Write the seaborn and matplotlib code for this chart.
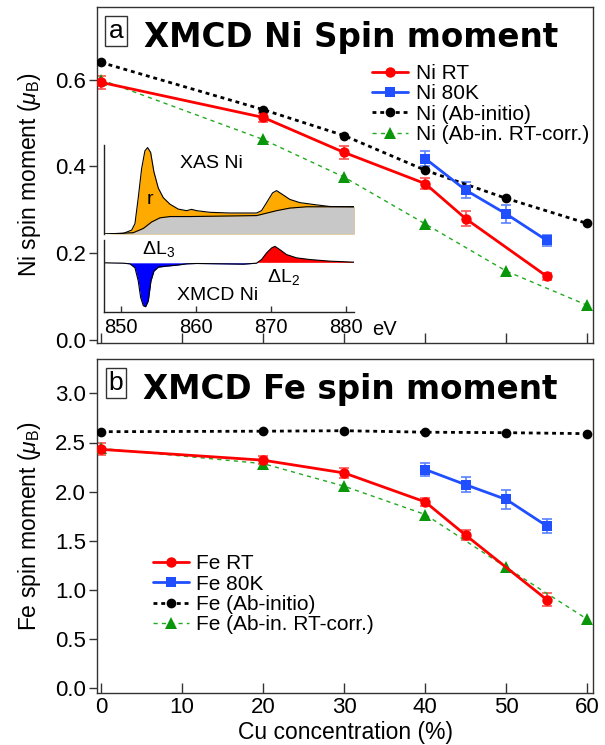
import matplotlib
matplotlib.use("Agg")
import matplotlib.pyplot as plt
import pandas as pd
import seaborn as sns

# ---- data: spin moments vs Cu concentration ----
cu_exp = [0, 20, 30, 40, 45, 55]
cu_80k = [40, 45, 50, 55]
cu_calc = [0, 20, 30, 40, 50, 60]

ni_rt = [0.594, 0.513, 0.432, 0.360, 0.279, 0.146]
ni_rt_err = [0.015, 0.011, 0.014, 0.012, 0.017, 0.008]
ni_80k = [0.418, 0.345, 0.290, 0.229]
ni_80k_err = [0.017, 0.018, 0.020, 0.013]
ni_abinitio = [0.640, 0.531, 0.471, 0.391, 0.326, 0.268]
ni_corr = [0.600, 0.462, 0.375, 0.267, 0.158, 0.079]

fe_rt = [2.43, 2.32, 2.19, 1.895, 1.556, 0.90]
fe_rt_err = [0.06, 0.04, 0.055, 0.04, 0.05, 0.065]
fe_80k = [2.225, 2.07, 1.92, 1.65]
fe_80k_err = [0.07, 0.075, 0.10, 0.07]
fe_abinitio = [2.61, 2.615, 2.62, 2.605, 2.60, 2.59]
fe_corr = [2.44, 2.285, 2.055, 1.767, 1.228, 0.70]

# ---- inset spectra (arbitrary units) ----
xas_energy = [847.83, 850.27, 851.39, 851.83, 852.27, 852.72, 853.16, 853.52,
              853.92, 854.36, 854.94, 855.61, 856.5, 857.61, 858.72, 859.39,
              860.05, 861.83, 864.5, 868.05, 868.72, 869.39, 870.19, 870.72,
              871.39, 872.5, 873.83, 876.05, 877.83, 881.07]
xas_ni = [0.0, 0.007, 0.045, 0.12, 0.42, 0.757, 0.963, 1.0,
          0.944, 0.719, 0.532, 0.42, 0.345, 0.288, 0.27, 0.285,
          0.27, 0.251, 0.243, 0.243, 0.27, 0.363, 0.476, 0.502,
          0.464, 0.40, 0.363, 0.337, 0.318, 0.315]
step_energy = [847.83, 851.6, 852.94, 854.05, 855.16, 856.5, 859.16,
               868.05, 868.94, 870.72, 872.5, 874.72, 881.07]
step_bg = [0.0, 0.015, 0.064, 0.139, 0.187, 0.202, 0.202,
           0.213, 0.232, 0.27, 0.30, 0.315, 0.315]
xmcd_energy = [847.83, 850.27, 851.16, 851.83, 852.27, 852.59, 852.94, 853.25,
               853.61, 853.96, 854.36, 854.94, 856.05, 857.39, 858.72, 860.05,
               863.61, 866.27, 868.05, 868.72, 869.39, 870.05, 870.5, 871.16,
               872.05, 873.39, 875.16, 877.83, 881.07]
xmcd_ni = [0.0, -0.008, -0.023, -0.113, -0.414, -0.789, -0.977, -1.0,
           -0.865, -0.414, -0.188, -0.098, -0.075, -0.053, -0.023, -0.015,
           -0.023, -0.03, -0.008, 0.075, 0.226, 0.338, 0.376, 0.30,
           0.188, 0.113, 0.075, 0.038, 0.015]
inset_ticks = [850, 860, 870, 880]

RED = "#ff0000"
BLUE = "#1f4fff"
GREEN = "#0a960a"
W, H = 605, 745


def fx(px):
    return px / W


def fy(py):
    return 1 - py / H


def draw_panel(ax, rt, rt_err, k80, k80_err, abin, corr, el):
    df_rt = pd.DataFrame({"cu": cu_exp, "m": rt})
    df_80 = pd.DataFrame({"cu": cu_80k, "m": k80})
    df_ab = pd.DataFrame({"cu": cu_calc, "m": abin})
    df_co = pd.DataFrame({"cu": cu_calc, "m": corr})

    ax.errorbar(cu_exp, rt, yerr=rt_err, fmt="none", ecolor="#ff5050",
                elinewidth=1.2, capsize=3.5, capthick=1.2, zorder=2)
    ax.errorbar(cu_80k, k80, yerr=k80_err, fmt="none", ecolor="#5a80ff",
                elinewidth=1.2, capsize=3.5, capthick=1.2, zorder=2)

    sns.lineplot(data=df_rt, x="cu", y="m", ax=ax, color=RED, lw=2,
                 marker="o", markersize=7.5, markeredgewidth=0,
                 label=f"{el} RT", zorder=4)
    sns.lineplot(data=df_80, x="cu", y="m", ax=ax, color=BLUE, lw=2,
                 marker="s", markersize=7.5, markeredgewidth=0,
                 label=f"{el} 80K", zorder=4)
    sns.lineplot(data=df_ab, x="cu", y="m", ax=ax, color="black", lw=2,
                 marker="o", markersize=7, markeredgewidth=0,
                 dashes=False, label=f"{el} (Ab-initio)", zorder=3)
    ax.lines[-1].set_dashes((1.4, 1.4))
    sns.lineplot(data=df_co, x="cu", y="m", ax=ax, color="#22aa22", lw=1,
                 marker="^", markersize=8, markeredgewidth=0,
                 markerfacecolor=GREEN, label=f"{el} (Ab-in. RT-corr.)",
                 zorder=3)
    ax.lines[-1].set_dashes((3, 3))

    ax.set_xlim(-0.5, 60.7)
    ax.set_xticks([0, 10, 20, 30, 40, 50, 60])
    ax.tick_params(axis="x", direction="in", length=7, width=1, color="#333333")
    ax.tick_params(axis="y", direction="out", length=6, width=1, color="#333333",
                   labelsize=16, pad=2)
    for sp in ax.spines.values():
        sp.set_visible(True)
        sp.set_color("#333333")
        sp.set_linewidth(1)


sns.set_theme(style="ticks")
plt.rcParams["font.family"] = ["Liberation Sans", "DejaVu Sans"]
plt.rcParams["mathtext.fontset"] = "custom"
plt.rcParams["mathtext.rm"] = "Liberation Sans"
plt.rcParams["mathtext.it"] = "Liberation Sans:italic"
for key in ["text.color", "axes.labelcolor", "xtick.labelcolor", "ytick.labelcolor"]:
    plt.rcParams[key] = "black"

fig = plt.figure(figsize=(6.05, 7.45), dpi=100)

ax_a = fig.add_axes([fx(97), fy(343), fx(593 - 97), (343 - 7) / H])
ax_b = fig.add_axes([fx(97), fy(693), fx(593 - 97), (693 - 359) / H])

draw_panel(ax_a, ni_rt, ni_rt_err, ni_80k, ni_80k_err, ni_abinitio, ni_corr, "Ni")
draw_panel(ax_b, fe_rt, fe_rt_err, fe_80k, fe_80k_err, fe_abinitio, fe_corr, "Fe")

legend_kw = dict(frameon=False, fontsize=15, handlelength=1.75, handletextpad=0.35,
                 labelspacing=0.06, borderpad=0, borderaxespad=0)

# panel a
ax_a.set_ylim(-0.008, 0.768)
ax_a.set_yticks([0.0, 0.2, 0.4, 0.6])
ax_a.set_yticklabels(["0.0", "0.2", "0.4", "0.6"])
ax_a.set_xticklabels([])
ax_a.set_xlabel("")
ax_a.set_ylabel(r"Ni spin moment ($\mathit{\mu}_{\rm B}$)", fontsize=16.5)
ax_a.yaxis.set_label_coords(-0.108, 0.5)
ax_a.legend(loc="upper left", bbox_to_anchor=(0.554, 0.83), **legend_kw)

# panel b
ax_b.set_ylim(-0.05, 3.35)
ax_b.set_yticks([0.0, 0.5, 1.0, 1.5, 2.0, 2.5, 3.0])
ax_b.set_yticklabels(["0.0", "0.5", "1.0", "1.5", "2.0", "2.5", "3.0"])
ax_b.tick_params(axis="x", labelsize=16, pad=3)
ax_b.set_xlabel("Cu concentration (%)", fontsize=16.5, labelpad=2)
ax_b.set_ylabel(r"Fe spin moment ($\mathit{\mu}_{\rm B}$)", fontsize=16.5)
ax_b.yaxis.set_label_coords(-0.108, 0.5)
ax_b.legend(loc="upper left", bbox_to_anchor=(0.112, 0.415), **legend_kw)

# panel titles
box = dict(boxstyle="square,pad=0.12", fc="white", ec="#333333", lw=1)
fig.text(fx(116), fy(31), "a", fontsize=19, ha="center", va="center", bbox=box)
fig.text(fx(116), fy(383), "b", fontsize=19, ha="center", va="center", bbox=box)
fig.text(fx(351), fy(38), "XMCD Ni Spin moment", fontsize=23.5,
         family="DejaVu Sans", weight="heavy", ha="center", va="center")
fig.text(fx(350), fy(389), "XMCD Fe spin moment", fontsize=23.5,
         family="DejaVu Sans", weight="heavy", ha="center", va="center")

# ---- inset: XAS and XMCD spectra ----
e_lo, e_hi = 847.7, 881.05
ax_xas = fig.add_axes([fx(104), fy(234), fx(354 - 104), (234 - 145) / H])
ax_xas.fill_between(xas_energy, 0, xas_ni, color="#ffaa00", lw=0)
ax_xas.fill_between(step_energy, 0, step_bg, color="#c8c8c8", lw=0)
ax_xas.plot(xas_energy, xas_ni, color="black", lw=0.8)
ax_xas.plot(step_energy, step_bg, color="black", lw=0.8)
ax_xas.set_xlim(e_lo, e_hi)
ax_xas.set_ylim(0, 1.03)
ax_xas.set_xticks([])
ax_xas.set_yticks([])
ax_xas.patch.set_alpha(0)
for side in ["top", "right", "bottom"]:
    ax_xas.spines[side].set_visible(False)
ax_xas.spines["left"].set_color("#222222")
ax_xas.spines["left"].set_linewidth(1)

ax_mcd = fig.add_axes([fx(104), fy(312), fx(354 - 104), (312 - 240) / H])
xmcd_s = pd.Series(xmcd_ni)
ax_mcd.fill_between(xmcd_energy, 0, xmcd_ni, where=(xmcd_s <= 0).tolist(),
                    interpolate=True, color="#0000ff", lw=0)
ax_mcd.fill_between(xmcd_energy, 0, xmcd_ni, where=(xmcd_s >= 0).tolist(),
                    interpolate=True, color="#ff0000", lw=0)
ax_mcd.plot(xmcd_energy, xmcd_ni, color="black", lw=0.8)
ax_mcd.set_xlim(e_lo, e_hi)
ax_mcd.set_ylim(-1.12, 0.52)
ax_mcd.set_yticks([])
ax_mcd.set_xticks(inset_ticks)
ax_mcd.tick_params(axis="x", direction="in", length=4, width=1,
                   color="#333333", labelsize=14.5, pad=4)
ax_mcd.patch.set_alpha(0)
for side in ["top", "right"]:
    ax_mcd.spines[side].set_visible(False)
for side in ["left", "bottom"]:
    ax_mcd.spines[side].set_color("#222222")
    ax_mcd.spines[side].set_linewidth(1)

fig.text(fx(372), fy(329), "eV", fontsize=14.5, ha="left", va="center")
fig.text(fx(180), fy(163), "XAS Ni", fontsize=14, ha="left", va="center")
fig.text(fx(150), fy(200), "r", fontsize=14, ha="center", va="center")
fig.text(fx(142), fy(249), r"$\Delta$L$_3$", fontsize=14, ha="left", va="center")
fig.text(fx(267), fy(277), r"$\Delta$L$_2$", fontsize=14, ha="left", va="center")
fig.text(fx(177), fy(296), "XMCD Ni", fontsize=14, ha="left", va="center")

fig.savefig("out.png", dpi=100, facecolor="white")
